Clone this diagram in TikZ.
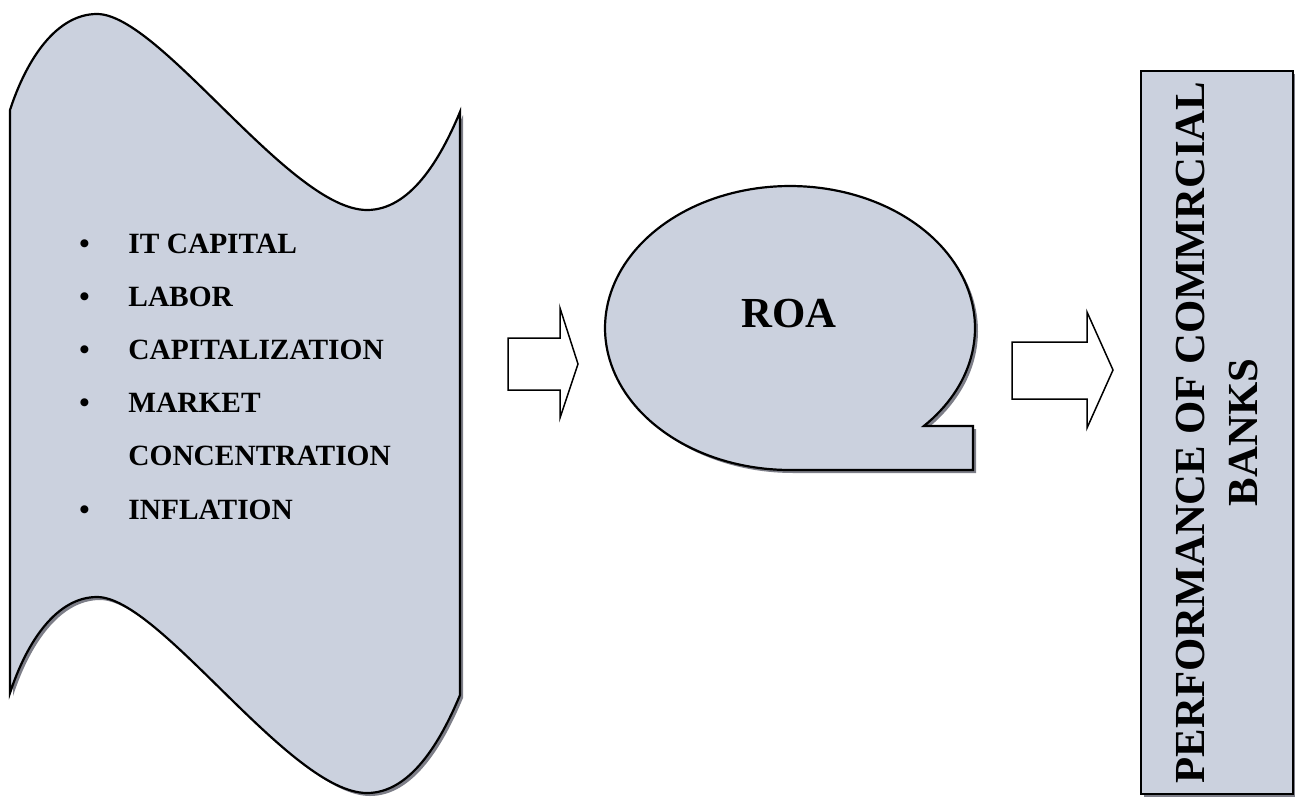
\documentclass[tikz,border=0pt]{standalone}
\usepackage{fontspec}
\setmainfont{Liberation Serif}
\usetikzlibrary{positioning,shadows}
\definecolor{panelfill}{RGB}{203,209,222}
\definecolor{panelshade}{RGB}{125,126,136}
\newcommand{\listfont}{\fontsize{14.7}{17}\selectfont\bfseries}
\newcommand{\bigfont}{\fontsize{21.4}{26.5}\selectfont\bfseries}

\begin{document}
\begin{tikzpicture}[x=0.5pt, y=-0.5pt,
    panel/.style={draw, line width=1.1pt, fill=panelfill,
      drop shadow={shadow xshift=1.5pt, shadow yshift=-1.5pt, fill=panelshade, opacity=1}},
    blockarrow/.style={draw, line width=0.75pt, fill=white, line join=miter},
    listitem/.style={font=\listfont, inner sep=0pt, text height=10pt, text depth=0pt},
    bul/.style={listitem}]
  \useasboundingbox (0,0) rectangle (1295,798);

  % left panel with wavy top and bottom
  \draw[panel] (10,110) .. controls (27,58) and (57,14) .. (97,14)
    .. controls (160,14) and (290,210) .. (367,210)
    .. controls (410,210) and (440,160) .. (460,112)
    -- (460,695)
    .. controls (440,743) and (410,793) .. (367,793)
    .. controls (290,793) and (160,597) .. (97,597)
    .. controls (57,597) and (27,641) .. (10,693)
    -- cycle;

  \node[listitem, anchor=base west] (itcap) at (128,253) {IT CAPITAL};
  \node[listitem, below=16.2pt of itcap.south west, anchor=north west] (labor) {LABOR};
  \node[listitem, below=16.2pt of labor.south west, anchor=north west] (capz) {CAPITALIZATION};
  \node[listitem, below=16.2pt of capz.south west, anchor=north west] (market) {MARKET};
  \node[listitem, below=16.2pt of market.south west, anchor=north west] (conc) {CONCENTRATION};
  \node[listitem, below=16.2pt of conc.south west, anchor=north west] (infl) {INFLATION};
  \node[bul, left=19pt of itcap] {\textbullet};
  \node[bul, left=19pt of labor] {\textbullet};
  \node[bul, left=19pt of capz] {\textbullet};
  \node[bul, left=19pt of market] {\textbullet};
  \node[bul, left=19pt of infl] {\textbullet};

  % block arrows
  \draw[blockarrow] (508,338) -- (560,338) -- (560,308) -- (578,364)
    -- (560,418) -- (560,390) -- (508,390) -- cycle;
  \draw[blockarrow] (1012,342) -- (1087,342) -- (1087,312) -- (1113,370)
    -- (1087,428) -- (1087,399) -- (1012,399) -- cycle;

  % callout
  \draw[panel] plot[domain=43.6:-270, samples=160] ({790+185*cos(\x)},{328+142*sin(\x)})
    -- (973,470) -- (973,426) -- cycle;
  \node[font=\bigfont, inner sep=0pt, anchor=base] (roa) at (789,327) {ROA};

  % right box
  \node[panel, minimum width=76pt, minimum height=361.5pt, inner sep=0pt] (perfbox) at (1217,432.5) {};
  \node[rotate=90, align=center, font=\bigfont, inner sep=0pt] (perf) at (perfbox.center)
    {PERFORMANCE OF COMMRCIAL\\BANKS};
\end{tikzpicture}
\end{document}
